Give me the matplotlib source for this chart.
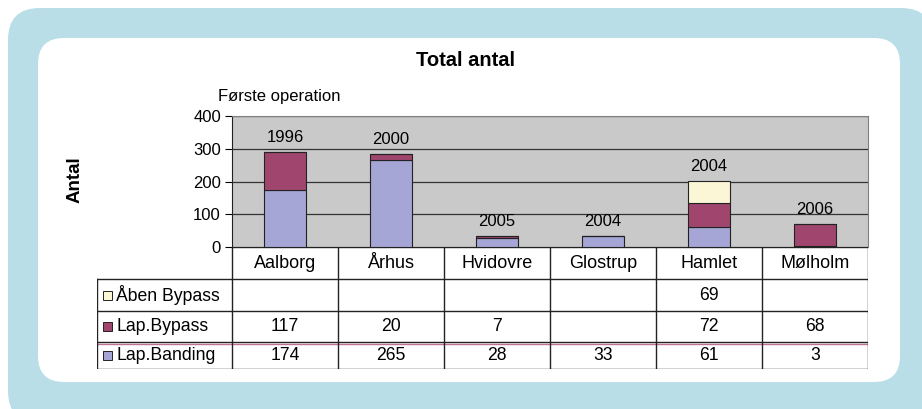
import numpy as np
import matplotlib.pyplot as plt
from matplotlib.patches import FancyBboxPatch, Rectangle

plt.rcParams['font.family'] = ['Liberation Sans', 'DejaVu Sans']

# data
steder = ["Aalborg", "Århus", "Hvidovre", "Glostrup", "Hamlet", "Mølholm"]
aar = ["1996", "2000", "2005", "2004", "2004", "2006"]
lap_banding = [174, 265, 28, 33, 61, 3]
lap_bypass = [117, 20, 7, 0, 72, 68]
aaben_bypass = [0, 0, 0, 0, 69, 0]
serie_navne = ["Åben Bypass", "Lap.Bypass", "Lap.Banding"]

c_band = "#A5A5D6"
c_byp = "#A0466E"
c_aab = "#FBF6D6"

W, H = 922, 409
fig = plt.figure(figsize=(W / 100, H / 100), dpi=100)

# baggrund med afrundede rammer
bg = fig.add_axes([0, 0, 1, 1], zorder=-5)
bg.set_xlim(0, W)
bg.set_ylim(H, 0)
bg.axis("off")
bg.add_patch(FancyBboxPatch((8, 8), 925, 415, boxstyle="round,pad=0,rounding_size=32",
                            fc="#B9DEE8", ec="none"))
bg.add_patch(FancyBboxPatch((38, 38), 862, 344, boxstyle="round,pad=0,rounding_size=26",
                            fc="white", ec="none"))

def fx(px):
    return px / W

def fy(py):
    return 1 - py / H

# hovedplot
ax = fig.add_axes([fx(232), fy(247), fx(868 - 232), (247 - 116) / H])
x = np.arange(len(steder))
ax.bar(x, lap_banding, 0.4, color=c_band, edgecolor="#222222", lw=0.8, zorder=3)
ax.bar(x, lap_bypass, 0.4, bottom=lap_banding, color=c_byp, edgecolor="#222222", lw=0.8, zorder=3)
bund = np.array(lap_banding) + np.array(lap_bypass)
ax.bar(x, aaben_bypass, 0.4, bottom=bund, color=c_aab, edgecolor="#222222", lw=0.8, zorder=3)
total = bund + np.array(aaben_bypass)
for i in range(len(steder)):
    ax.annotate(aar[i], (x[i], total[i]), xytext=(0, 5), textcoords="offset points",
                ha="center", va="bottom", fontsize=12)

ax.set_xlim(-0.5, len(steder) - 0.5)
ax.set_ylim(0, 400)
ax.set_yticks([0, 100, 200, 300, 400])
ax.set_facecolor("#C9C9C9")
ax.yaxis.grid(True, color="#333333", lw=0.9, zorder=0)
ax.set_axisbelow(True)
ax.set_xticks([])
ax.tick_params(axis="y", labelsize=12, length=5, width=0.8, direction="out", pad=3)
ax.spines["left"].set_color("#222222")
for s in ["top", "right"]:
    ax.spines[s].set_color("#808080")
ax.spines["bottom"].set_visible(False)

fig.text(fx(465), fy(60), "Total antal", ha="center", va="center", fontsize=14.5, fontweight="bold")
fig.text(fx(218), fy(96), "Første operation", ha="left", va="center", fontsize=12)
fig.text(fx(75), fy(180), "Antal", ha="center", va="center", rotation=90, fontsize=13.5, fontweight="bold")

# datatabel (y i pixel, x i kategorier)
lab_w = (232 - 97) / 106
tx0 = -0.5 - lab_w
tax = fig.add_axes([fx(97), fy(369), fx(868 - 97), (369 - 247) / H])
tax.set_xlim(tx0, len(steder) - 0.5)
tax.set_ylim(369, 247)
tax.axis("off")
kanter = [247, 279, 311, 342, 369]
lc = "#222222"
tax.plot([-0.5, 5.5], [kanter[0], kanter[0]], color=lc, lw=1)
for yy in kanter[1:]:
    tax.plot([tx0, 5.5], [yy, yy], color=lc, lw=1)
tax.plot([tx0, 5.5], [kanter[3] + 2, kanter[3] + 2], color="#C07090", lw=1)
for i in range(len(steder) + 1):
    tax.plot([i - 0.5, i - 0.5], [kanter[0], kanter[-1]], color=lc, lw=1)
tax.plot([tx0, tx0], [kanter[1], kanter[-1]], color=lc, lw=1)

for i, s in enumerate(steder):
    tax.text(i, (kanter[0] + kanter[1]) / 2, s, ha="center", va="center", fontsize=13)

rows = [aaben_bypass, lap_bypass, lap_banding]
farver = [c_aab, c_byp, c_band]
for r, (navn, vals, fc) in enumerate(zip(serie_navne, rows, farver)):
    yc = (kanter[r + 1] + kanter[r + 2]) / 2
    sq_w = 9 / 106
    tax.add_patch(Rectangle((tx0 + 6 / 106, yc - 4.5), sq_w, 9, fc=fc, ec="#222222", lw=0.7))
    tax.text(tx0 + 19 / 106, yc, navn, ha="left", va="center", fontsize=12.7)
    for i, v in enumerate(vals):
        if v:
            tax.text(i, yc, str(v), ha="center", va="center", fontsize=12.7)

fig.savefig("out.png", dpi=100)
